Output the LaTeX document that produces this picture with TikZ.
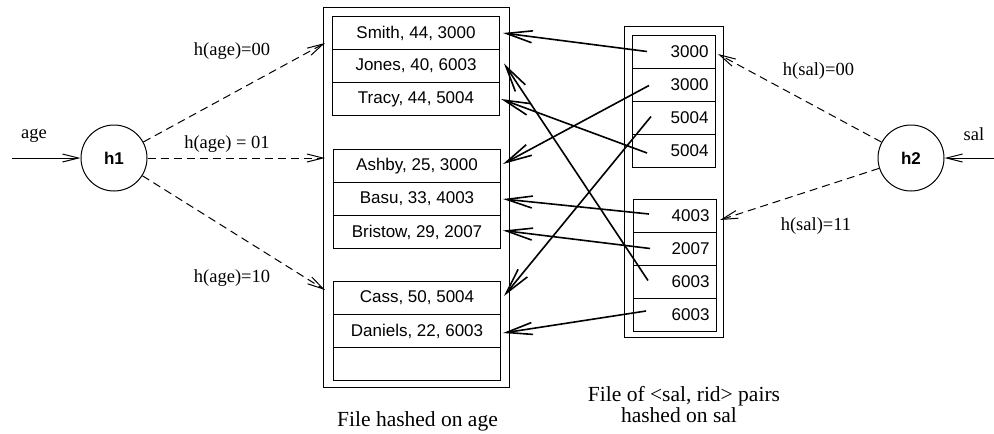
\documentclass[tikz,border=0pt]{standalone}
\usepackage{fontspec}
\setmainfont{Liberation Serif}
\setsansfont{Liberation Sans}
\usetikzlibrary{arrows.meta,calc}
\begin{document}
\begin{tikzpicture}[x=1pt,y=-1pt,
  outerbox/.style={draw,line width=1pt,inner sep=0pt,anchor=north west},
  rec/.style={draw,line width=1pt,minimum width=167pt,minimum height=33pt,inner sep=0pt,
    font=\sffamily\fontsize{17}{17}\selectfont,anchor=north west},
  salrec/.style={draw,line width=1pt,minimum width=83pt,minimum height=33pt,inner sep=0pt,
    text width=69pt,align=right,font=\sffamily\fontsize{17}{17}\selectfont,anchor=north west},
  hashnode/.style={draw,circle,line width=1pt,minimum size=66pt,inner sep=0pt,
    font=\sffamily\bfseries\fontsize{17}{17}\selectfont},
  lbl/.style={font=\fontsize{18.5}{18.5}\selectfont,inner sep=0pt},
  captext/.style={font=\fontsize{21.5}{21.5}\selectfont,inner sep=0pt},
  solidarr/.style={line width=1.6pt,-{Straight Barb[length=26pt,width=12pt]}},
  dasharr/.style={line width=1pt,dash pattern=on 8pt off 5pt,-{Straight Barb[length=16pt,width=8pt]}},
  inarr/.style={line width=1pt,-{Straight Barb[length=16pt,width=8pt]}}]
\useasboundingbox (0,0) rectangle (994,434);

% outer files
\node[outerbox,minimum width=186pt,minimum height=380pt] (fileage) at (323,7) {};
\node[outerbox,minimum width=99pt,minimum height=311pt] (filesal) at (624,26) {};

% records, file hashed on age
\node[rec] (smith) at (332,16) {Smith, 44, 3000};
\node[rec] (jones) at (332,49) {Jones, 40, 6003};
\node[rec] (tracy) at (332,82) {Tracy, 44, 5004};
\node[rec] (ashby) at (333,149) {Ashby, 25, 3000};
\node[rec] (basu) at (333,182) {Basu, 33, 4003};
\node[rec] (bristow) at (333,215) {Bristow, 29, 2007};
\node[rec] (cass) at (333,281) {Cass, 50, 5004};
\node[rec] (daniels) at (333,314) {Daniels, 22, 6003};
\node[rec] (empty) at (333,347) {};

% sal, rid pairs
\node[salrec] (a1) at (632,35) {3000};
\node[salrec] (a2) at (632,68) {3000};
\node[salrec] (a3) at (632,101) {5004};
\node[salrec] (a4) at (632,134) {5004};
\node[salrec] (b1) at (633,199) {4003};
\node[salrec] (b2) at (633,232) {2007};
\node[salrec] (b3) at (633,265) {6003};
\node[salrec] (b4) at (633,298) {6003};

% hash functions
\node[hashnode] (h1) at (114,158) {h1};
\node[hashnode] (h2) at (911,158) {h2};

\coordinate (agein) at (12,158);
\coordinate (salin) at (994,158);
\coordinate (t00) at (325,43);
\coordinate (t01) at (325,158);
\coordinate (t10) at (325,290);
\coordinate (s00) at (718,54);
\coordinate (s11) at (720,220);

\draw[inarr] (agein) -- (h1);
\draw[inarr] (salin) -- (h2);
\node[lbl] (agelbl) at (34,136) {age};
\node[lbl] (sallbl) at (974,134.5) {sal};

\draw[dasharr] (h1) -- (t00);
\draw[dasharr] (h1) -- (t01);
\draw[dasharr] (h1) -- (t10);
\draw[dasharr] (h2) -- (s00);
\draw[dasharr] (h2) -- (s11);

\node[lbl] (l00) at (232,51) {h(age)=00};
\node[lbl] (l01) at (227,144.5) {h(age) = 01};
\node[lbl] (l10) at (232,278) {h(age)=10};
\node[lbl] (m00) at (818.5,71.5) {h(sal)=00};
\node[lbl] (m11) at (816,226.5) {h(sal)=11};

% pointers
\draw[solidarr] ($(a1.west)+(15,-0.5)$) -- ($(smith.east)+(3,0)$);
\draw[solidarr] ($(a2.west)+(17,0.5)$) -- ($(ashby.east)+(2,-2)$);
\draw[solidarr] ($(a3.west)+(19,-1.5)$) -- ($(cass.east)+(3,-2)$);
\draw[solidarr] ($(a4.west)+(15,2)$) -- ($(tracy.east)+(1,0)$);
\draw[solidarr] ($(b1.west)+(16,-2)$) -- ($(basu.east)+(2,0)$);
\draw[solidarr] ($(b2.west)+(17,-0.5)$) -- ($(bristow.east)+(2,-1.5)$);
\draw[solidarr] ($(b3.west)+(15,-1.5)$) -- ($(jones.east)+(4,-2.5)$);
\draw[solidarr] ($(b4.west)+(13,-4)$) -- ($(daniels.east)+(2,2)$);

% captions
\node[captext] (capage) at (417.5,421) {File hashed on age};
\node[captext] (capsal1) at (684,396) {File of <sal, rid> pairs};
\node[captext] (capsal2) at (679,415) {hashed on sal};
\end{tikzpicture}
\end{document}
